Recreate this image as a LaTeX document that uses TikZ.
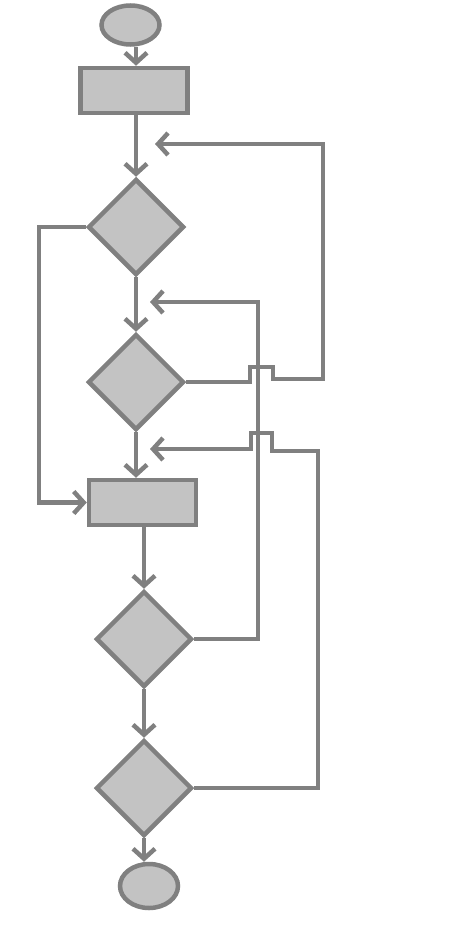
\documentclass[tikz,border=0pt]{standalone}
\usetikzlibrary{shapes.geometric,arrows.meta}
\definecolor{edgegray}{RGB}{128,128,128}
\definecolor{fillgray}{RGB}{195,195,195}
\begin{document}
\begin{tikzpicture}[x=1pt,y=-1pt,
  shapebase/.style={draw=edgegray, fill=fillgray, line width=4.5pt, inner sep=0pt},
  term/.style={shapebase, ellipse},
  proc/.style={shapebase, rectangle},
  dec/.style={shapebase, diamond, minimum width=96pt, minimum height=96pt},
  link/.style={draw=edgegray, line width=4.5pt},
  arr/.style={link, -{Straight Barb[length=10pt,width=22pt]}}]
\useasboundingbox (0,0) rectangle (453,934);
% nodes
\node[term, minimum width=58pt, minimum height=39pt] (start) at (130.5,25) {};
\node[proc, minimum width=107pt, minimum height=45pt] (r1) at (134,90.5) {};
\node[dec] (d1) at (136,227) {};
\node[dec] (d2) at (136,382) {};
\node[proc, minimum width=107pt, minimum height=45pt] (r2) at (142.5,502.5) {};
\node[dec] (d3) at (144,639) {};
\node[dec] (d4) at (144,788) {};
\node[term, minimum width=58pt, minimum height=44pt] (stop) at (149,886) {};
% free ends and bends
\coordinate (fb1) at (155,144);
\coordinate (fb2) at (150,302);
\coordinate (fb3) at (150,449);
\coordinate (lb) at (39,227);
\coordinate (v1) at (323,144);
\coordinate (v2) at (258,302);
\coordinate (v3) at (318,451);
% main flow
\draw[arr] (start.south -| d1) -- (r1.north -| d1);
\draw[arr] (r1.south -| d1) -- (d1.north);
\draw[arr] (d1.south) -- (d2.north);
\draw[arr] (d2.south) -- (r2.north -| d2);
\draw[arr] (r2.south -| d3) -- (d3.north);
\draw[arr] (d3.south) -- (d4.north);
\draw[arr] (d4.south) -- (stop.north -| d4);
% left bypass
\draw[arr] (d1.west) -- (lb) |- (r2.west);
% feedback loops
\draw[arr] (d2.east) -- (250,382) -- (250,367) -- (273,367) -- (273,379)
  -| (v1) -- (fb1);
\draw[arr] (d3.east) -| (v2) -- (fb2);
\draw[arr] (d4.east) -| (v3) -- (272,451) -- (272,433)
  -- (251,433) -- (251,449) -- (fb3);
\end{tikzpicture}
\end{document}
